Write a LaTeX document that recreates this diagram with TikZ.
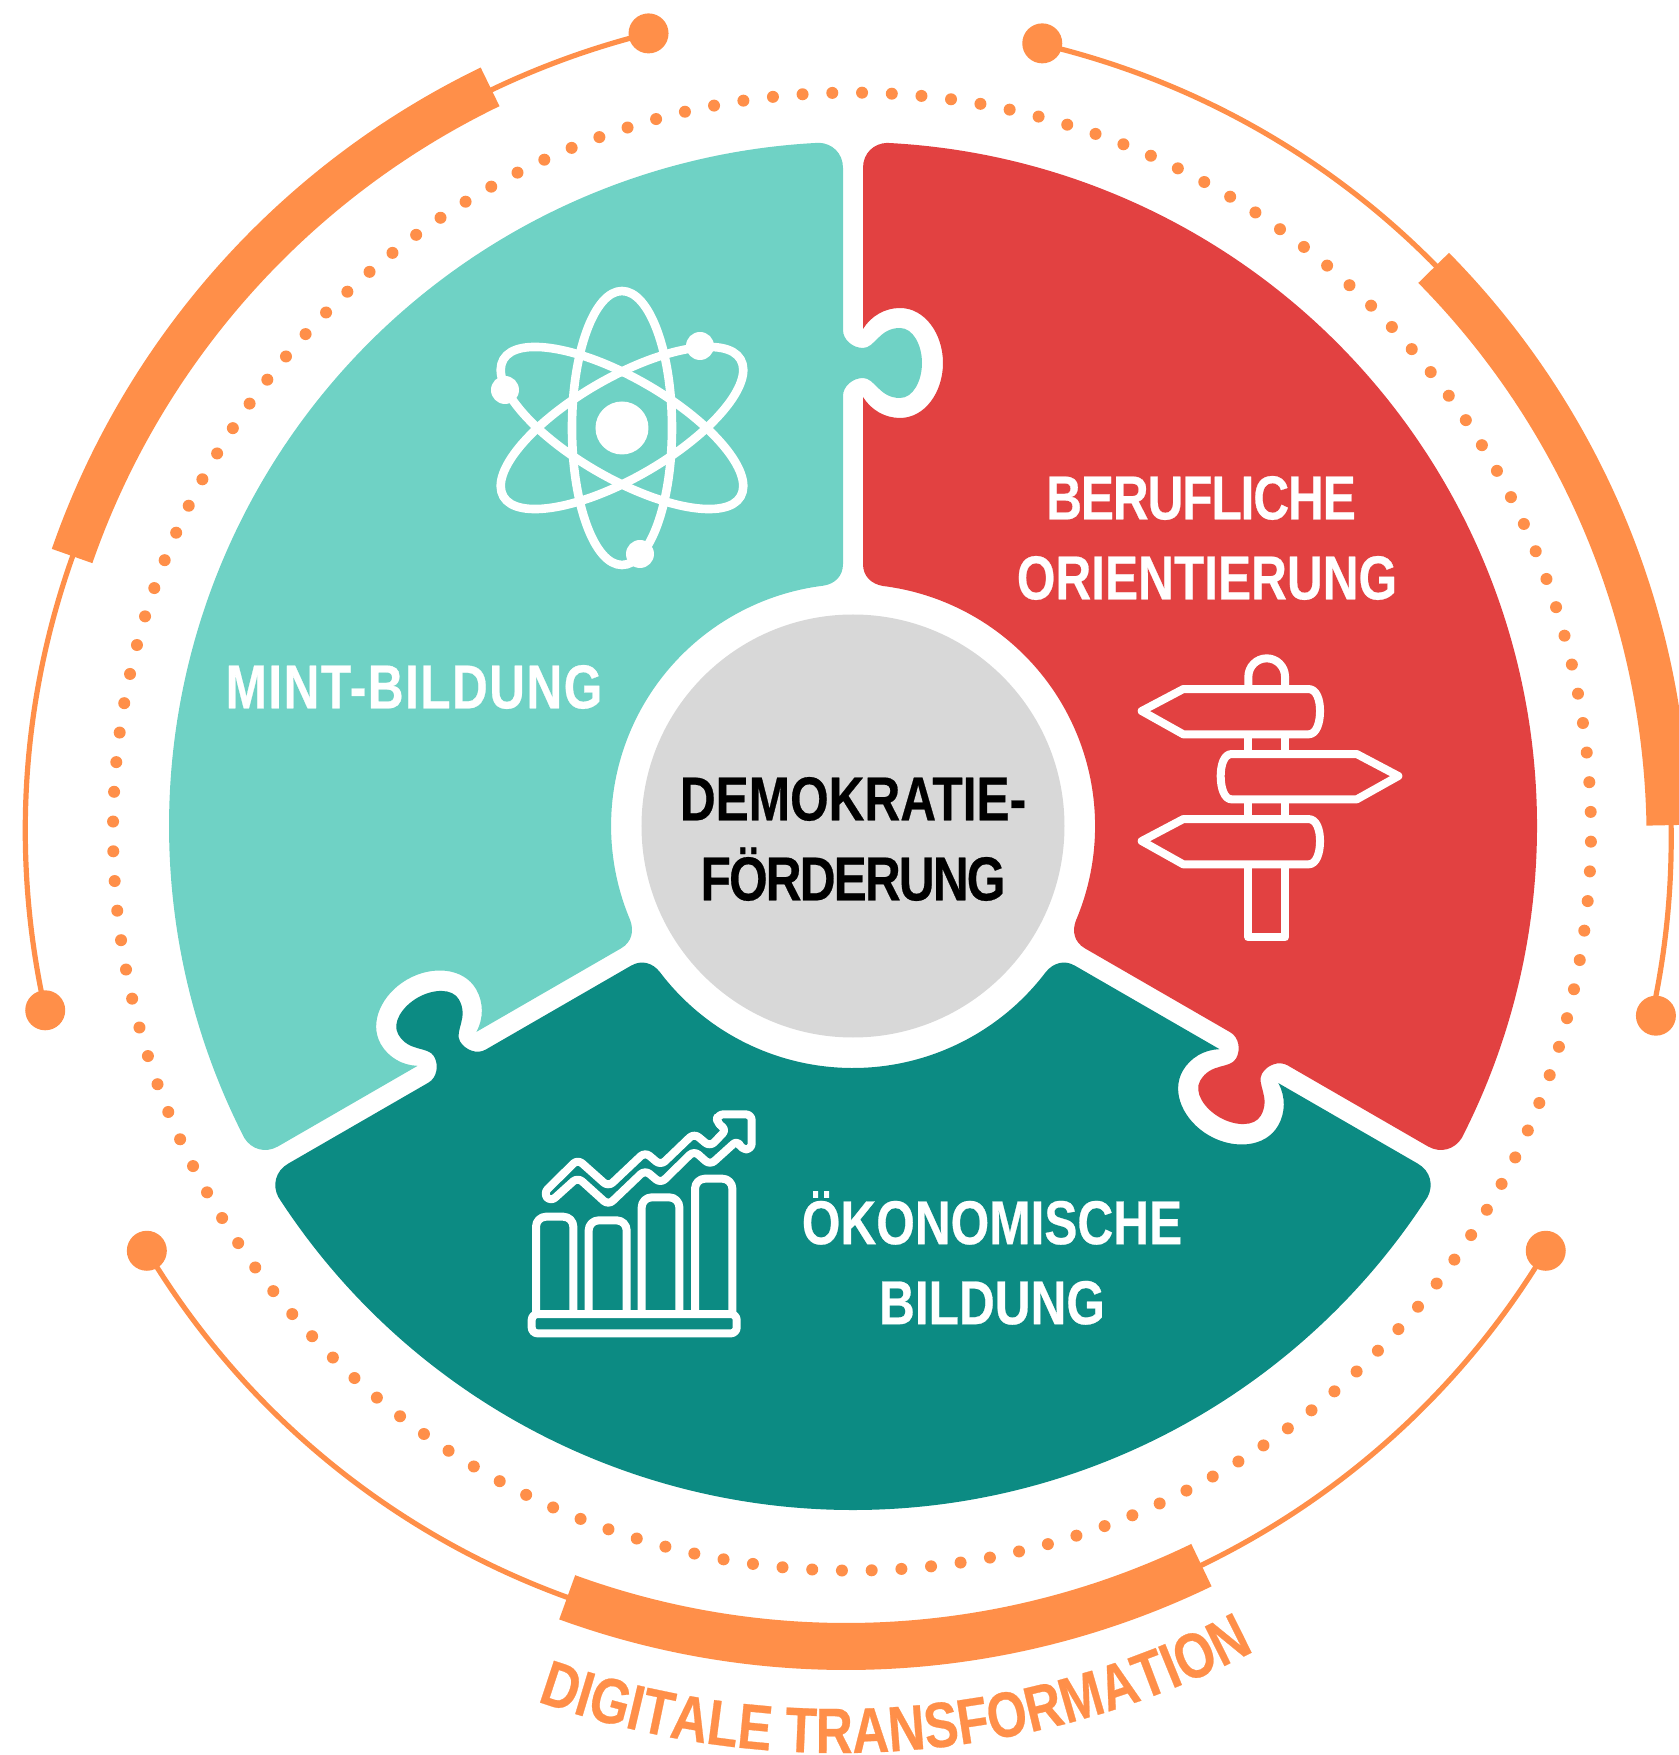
\documentclass[tikz,border=0pt]{standalone}
\usepackage{fontspec}
\usepackage{xcolor}
\usetikzlibrary{decorations.text}
\newfontfamily\labelfont[FakeStretch=0.80,FakeBold=0.4]{Liberation Sans Bold}
\newcommand{\spaced}[2]{{\addfontfeature{LetterSpace=#1}#2}}
\definecolor{mintteal}{RGB}{111,210,197}
\definecolor{berufred}{RGB}{226,65,65}
\definecolor{oekoteal}{RGB}{12,139,131}
\definecolor{digiorange}{RGB}{255,143,73}
\definecolor{coregrey}{RGB}{216,216,216}
\tikzstyle{rr} = [rotate=120]
\tikzstyle{thinarc} = [digiorange, line width=2.6pt]
\tikzstyle{bandarc} = [digiorange, line width=21.5pt]
\tikzstyle{iconline} = [white, line width=4pt, line join=round]
\tikzstyle{piecelabel} = [white, align=center, font=\labelfont\fontsize{31}{40}\selectfont]
\begin{document}
\begin{tikzpicture}[x=0.5pt, y=0.5pt]
    \useasboundingbox (-853,-929) rectangle (826,826);
    \foreach \piececol/\pieceangle in {mintteal/0, berufred/-120, oekoteal/-240} {
        \fill[\piececol, rotate=\pieceangle] (-10,262) -- (-10,430)
            .. controls (-10,440) and (0,448) .. (10,448)
            .. controls (22,448) and (26,428) .. (47,428)
            .. controls (60,428) and (69,445) .. (69,463)
            .. controls (69,481) and (60,498) .. (47,498)
            .. controls (26,498) and (22,478) .. (10,478)
            .. controls (0,478) and (-10,486) .. (-10,496)
            -- (-10,658) .. controls (-10,673) and (-21,682.7) .. (-34,683.2)
            arc[start angle=92.85, end angle=207.15, radius=684]
            .. controls ([rr]21,682.7) and ([rr]10,673) .. ([rr]10,658)
            -- ([rr]10,497)
            .. controls ([rr]18,510) and ([rr]32,518) .. ([rr]47,518)
            .. controls ([rr]72,518) and ([rr]90,492) .. ([rr]90,463)
            .. controls ([rr]90,434) and ([rr]72,408) .. ([rr]47,408)
            .. controls ([rr]32,408) and ([rr]18,416) .. ([rr]10,429)
            -- ([rr]10,262) .. controls ([rr]10,250) and ([rr]18,242) .. ([rr]30,240)
            arc[start angle=202.9, end angle=97.1, radius=242]
            .. controls (-18,242) and (-10,250) .. (-10,262) -- cycle;
    }
    \fill[coregrey] (0,0) circle[radius=211.5];
    \foreach \i in {0,...,155} {
        \fill[digiorange] ([shift={(-1,-5.6)}]{-90.78+\i*2.3077}:739) circle[radius=6];
    }
    \draw[thinarc] ([shift={(-5.6,-5)}]104:822) arc[start angle=104, end angle=192.6, radius=822];
    \draw[bandarc] ([shift={(-5.6,0)}]115.8:821) arc[start angle=115.8, end angle=160.8, radius=821];
    \fill[digiorange] ([shift={(-5.6,-5)}]104:822) circle[radius=20];
    \fill[digiorange] ([shift={(-5.6,-5)}]192.6:822) circle[radius=20];
    \draw[thinarc] ([shift={(1.1,-13.4)}]76.7:817) arc[start angle=76.7, end angle=-12.4, radius=817];
    \draw[bandarc] ([shift={(1.1,-13.4)}]44.6:814) arc[start angle=44.6, end angle=1, radius=814];
    \fill[digiorange] ([shift={(1.1,-13.4)}]76.7:818) circle[radius=20];
    \fill[digiorange] ([shift={(1.1,-13.4)}]-12.4:821) circle[radius=20];
    \draw[thinarc] ([shift={(-6.7,-4.5)}]211:816) arc[start angle=211, end angle=329, radius=816];
    \draw[digiorange, line width=23.5pt] ([shift={(-6.7,-4.5)}]250:816) arc[start angle=250, end angle=295.8, radius=816];
    \fill[digiorange] ([shift={(-6.7,-4.5)}]211:816) circle[radius=20];
    \fill[digiorange] ([shift={(-6.7,-4.5)}]329:816) circle[radius=20];
    \node(core)[black, align=center, font=\labelfont\fontsize{31}{40}\selectfont] at (0,-13) {DEMOKRATIE-\\\spaced{-3}{FÖRDERUNG}};
    \node(beruf)[piecelabel] at (354,288) {\spaced{-1.8}{BERUFLICHE}\hspace*{6pt}\\ORIENTIERUNG};
    \node(mint)[piecelabel] at (-439,139) {\spaced{2.3}{MINT-BILDUNG}};
    \node(oeko)[piecelabel] at (139,-432) {ÖKONOMISCHE\\BILDUNG};
    \path[decorate, decoration={text along path, text align=center,
        text={|\labelfont\fontsize{32}{32}\selectfont\color{digiorange}|DIGITALE TRANSFORMATION}}]
        ([shift={(-15,-27)}]-126:900) arc[start angle=-126, end angle=-46, radius=900];
    \begin{scope}[shift={(-231,398)}]
        \fill[white] (0,0) circle[radius=26.5];
        \foreach \tilt in {0,60,120} {
            \draw[iconline, line width=4.3pt, rotate=\tilt] (0,0) circle[x radius=50, y radius=137];
        }
        \fill[white] (78,82) circle[radius=14];
        \fill[white] (-117,38) circle[radius=14];
        \fill[white] (18,-126) circle[radius=14];
    \end{scope}
    \begin{scope}[shift={(247,196)}, x=0.1667pt, y=-0.1667pt]
        \draw[iconline] (445,165) -- (445,140) arc[start angle=180, end angle=360, radius=55] -- (555,165);
        \draw[iconline] (445,315) -- (445,370) (555,315) -- (555,370);
        \draw[iconline] (445,510) -- (445,565) (555,510) -- (555,565);
        \draw[iconline] (445,705) -- (445,922) -- (555,922) -- (555,705);
        \foreach \dy in {0,390} {
            \draw[iconline, yshift=-\dy*0.1667pt] (125,243) -- (250,177) -- (625,177)
                .. controls (650,177) and (660,210) .. (660,243)
                .. controls (660,277) and (650,313) .. (625,313) -- (250,313) -- cycle;
        }
        \draw[iconline] (895,438) -- (770,372) -- (395,372)
            .. controls (372,372) and (362,405) .. (362,438)
            .. controls (362,472) and (372,508) .. (395,508) -- (770,508) -- cycle;
    \end{scope}
    \begin{scope}[shift={(-343,-264)}, x=0.1667pt, y=-0.1667pt]
        \draw[iconline, rounded corners=3pt] (65,672) rectangle (680,730);
        \draw[iconline, rounded corners=5pt] (78,672) -- (78,380) -- (190,380) -- (190,672);
        \draw[iconline, rounded corners=5pt] (236,672) -- (236,391) -- (350,391) -- (350,672);
        \draw[iconline, rounded corners=5pt] (395,672) -- (395,322) -- (508,322) -- (508,672);
        \draw[iconline, rounded corners=5pt] (555,672) -- (555,266) -- (667,266) -- (667,672);
        \draw[iconline, rounded corners=3pt] (100,310) -- (203,208) -- (295,290) -- (405,186)
            -- (452,226) -- (552,130) -- (600,170) -- (650,118) -- (620,100) -- (622,73)
            -- (725,73) -- (725,178) -- (693,178) -- (683,150) -- (600,225) -- (552,182)
            -- (452,280) -- (405,240) -- (295,345) -- (203,262) -- (122,335) -- cycle;
    \end{scope}
\end{tikzpicture}
\end{document}
